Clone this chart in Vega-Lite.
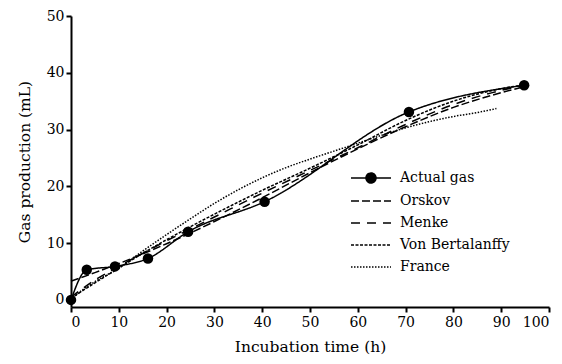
{
  "$schema": "https://vega.github.io/schema/vega-lite/v6.json",
  "width": 478,
  "height": 291,
  "autosize": "none",
  "padding": {"left": 71, "top": 16, "right": 13, "bottom": 57},
  "background": "white",
  "config": {
    "view": {"stroke": null},
    "font": "DejaVu Serif",
    "axis": {
      "domainColor": "black", "domainWidth": 2, "tickColor": "black", "tickWidth": 2, "tickSize": 5,
      "labelFont": "DejaVu Serif", "labelFontSize": 14, "labelColor": "black",
      "titleFont": "DejaVu Serif", "titleFontSize": 15.5, "titleFontWeight": "normal", "titleColor": "black",
      "grid": false, "labelPadding": 3
    },
    "legend": {"labelFont": "DejaVu Serif"}
  },
  "data": {"values": [
    {"series": "Actual gas", "t": 0, "y": 0},
    {"series": "Actual gas", "t": 3.3, "y": 5.3},
    {"series": "Actual gas", "t": 9.2, "y": 5.9},
    {"series": "Actual gas", "t": 16.1, "y": 7.3},
    {"series": "Actual gas", "t": 24.5, "y": 12.0},
    {"series": "Actual gas", "t": 40.5, "y": 17.3},
    {"series": "Actual gas", "t": 70.7, "y": 33.1},
    {"series": "Actual gas", "t": 94.8, "y": 37.8},
    {"series": "Orskov", "t": 0, "y": 3.3},
    {"series": "Orskov", "t": 5, "y": 4.8},
    {"series": "Orskov", "t": 10, "y": 6.4},
    {"series": "Orskov", "t": 15, "y": 8.1},
    {"series": "Orskov", "t": 20, "y": 9.9},
    {"series": "Orskov", "t": 25, "y": 11.8},
    {"series": "Orskov", "t": 30, "y": 13.8},
    {"series": "Orskov", "t": 40, "y": 18.0},
    {"series": "Orskov", "t": 50, "y": 22.4},
    {"series": "Orskov", "t": 60, "y": 26.6},
    {"series": "Orskov", "t": 70, "y": 30.5},
    {"series": "Orskov", "t": 80, "y": 33.9},
    {"series": "Orskov", "t": 90, "y": 36.5},
    {"series": "Orskov", "t": 95, "y": 37.6},
    {"series": "Menke", "t": 0, "y": 0.5},
    {"series": "Menke", "t": 5, "y": 3.5},
    {"series": "Menke", "t": 10, "y": 5.9},
    {"series": "Menke", "t": 15, "y": 8.2},
    {"series": "Menke", "t": 20, "y": 10.4},
    {"series": "Menke", "t": 25, "y": 12.5},
    {"series": "Menke", "t": 30, "y": 14.6},
    {"series": "Menke", "t": 40, "y": 18.8},
    {"series": "Menke", "t": 50, "y": 22.8},
    {"series": "Menke", "t": 60, "y": 26.8},
    {"series": "Menke", "t": 70, "y": 30.9},
    {"series": "Menke", "t": 80, "y": 34.4},
    {"series": "Menke", "t": 90, "y": 36.9},
    {"series": "Menke", "t": 95, "y": 37.8},
    {"series": "Von Bertalanffy", "t": 0, "y": 0.3},
    {"series": "Von Bertalanffy", "t": 5, "y": 3.0},
    {"series": "Von Bertalanffy", "t": 10, "y": 5.6},
    {"series": "Von Bertalanffy", "t": 15, "y": 8.2},
    {"series": "Von Bertalanffy", "t": 20, "y": 10.6},
    {"series": "Von Bertalanffy", "t": 25, "y": 12.9},
    {"series": "Von Bertalanffy", "t": 30, "y": 15.1},
    {"series": "Von Bertalanffy", "t": 40, "y": 19.3},
    {"series": "Von Bertalanffy", "t": 50, "y": 23.2},
    {"series": "Von Bertalanffy", "t": 60, "y": 27.3},
    {"series": "Von Bertalanffy", "t": 70, "y": 31.6},
    {"series": "Von Bertalanffy", "t": 80, "y": 35.0},
    {"series": "Von Bertalanffy", "t": 90, "y": 37.2},
    {"series": "Von Bertalanffy", "t": 95, "y": 37.9},
    {"series": "France", "t": 0, "y": 0},
    {"series": "France", "t": 2, "y": 1.5},
    {"series": "France", "t": 5, "y": 3.2},
    {"series": "France", "t": 10, "y": 5.6},
    {"series": "France", "t": 15, "y": 8.6},
    {"series": "France", "t": 20, "y": 11.5},
    {"series": "France", "t": 25, "y": 14.3},
    {"series": "France", "t": 30, "y": 17.0},
    {"series": "France", "t": 35, "y": 19.4},
    {"series": "France", "t": 40, "y": 21.5},
    {"series": "France", "t": 45, "y": 23.3},
    {"series": "France", "t": 50, "y": 24.8},
    {"series": "France", "t": 55, "y": 26.2},
    {"series": "France", "t": 60, "y": 27.6},
    {"series": "France", "t": 65, "y": 29.0},
    {"series": "France", "t": 70, "y": 30.3},
    {"series": "France", "t": 75, "y": 31.4},
    {"series": "France", "t": 80, "y": 32.3},
    {"series": "France", "t": 85, "y": 33.0},
    {"series": "France", "t": 89, "y": 33.7}
  ]},
  "encoding": {
    "x": {"field": "t", "type": "quantitative", "scale": {"domain": [0, 100], "nice": false, "zero": false},
          "axis": {"values": [0,10,20,30,40,50,60,70,80,90,100], "title": "Incubation time (h)", "titlePadding": 10}},
    "y": {"field": "y", "type": "quantitative", "scale": {"domain": [-1.25, 50], "nice": false, "zero": false},
          "axis": {"values": [0,10,20,30,40,50], "title": "Gas production (mL)", "titlePadding": 14, "labelPadding": 2}}
  },
  "layer": [
    {
      "mark": {"type": "line", "color": "black", "strokeWidth": 1.5, "interpolate": "monotone"},
      "encoding": {
        "strokeDash": {
          "field": "series", "type": "nominal",
          "scale": {"domain": ["Actual gas", "Orskov", "Menke", "Von Bertalanffy", "France"],
                    "range": [[1, 0], [8, 3], [9, 7], [3, 1.5], [1.5, 1.5]]},
          "legend": {
            "title": null, "orient": "none", "legendX": 293, "legendY": 155,
            "symbolSize": 100, "symbolStrokeWidth": 1.5, "symbolStrokeColor": "black",
            "labelFont": "DejaVu Serif", "labelFontSize": 14, "labelColor": "black",
            "labelOffset": 22, "rowPadding": 8, "padding": 0,
            "encode": {"symbols": {"update": {
              "shape": {"signal": "datum.value === 'Actual gas' ? 'M-4,0L-1,0M1,0L4,0M-1,0A1,1,0,1,0,1,0A1,1,0,1,0,-1,0Z' : 'M-4,0L4,0'"},
              "fill": {"value": "black"},
              "stroke": {"value": "black"},
              "strokeWidth": {"value": 1.5}
            }}}
          }
        }
      }
    },
    {
      "transform": [{"filter": "datum.series === 'Actual gas'"}],
      "mark": {"type": "point", "filled": true, "color": "black", "size": 110, "opacity": 1}
    }
  ]
}
